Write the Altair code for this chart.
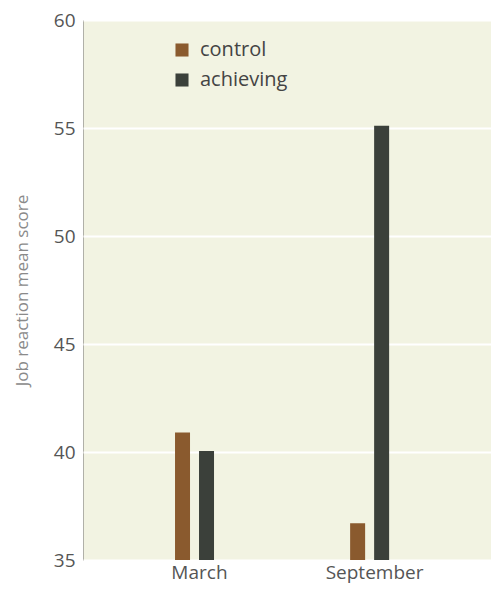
import altair as alt
import pandas as pd

months = ["March", "March", "September", "September"]
groups = ["control", "achieving", "control", "achieving"]
scores = [40.9, 40.05, 36.7, 55.1]

df = pd.DataFrame({"month": months, "group": groups, "score": scores})

chart = alt.Chart(df).mark_bar(clip=True).encode(
    x=alt.X("month:N", sort=["March", "September"],
            scale=alt.Scale(paddingInner=0.07, paddingOuter=0.2),
            axis=alt.Axis(title=None, labelAngle=0, ticks=False, domain=False,
                          labelFontSize=19, labelColor="#555555", labelFont="Open Sans",
                          labelPadding=3)),
    xOffset=alt.XOffset("group:N", sort=["control", "achieving"],
                        scale=alt.Scale(paddingInner=0.375, paddingOuter=0, range=[57, 96])),
    y=alt.Y("score:Q", scale=alt.Scale(domain=[35, 60], nice=False, zero=False),
            axis=alt.Axis(title="Job reaction mean score", values=[35, 40, 45, 50, 55, 60],
                          ticks=False, domain=False, grid=True, gridColor="#ffffff",
                          gridWidth=2, labelFontSize=19, labelColor="#555555",
                          labelFont="Open Sans", labelPadding=8,
                          titleFont="Open Sans", titleFontSize=17, titleFontWeight="normal",
                          titleColor="#8a8a8a", titlePadding=22)),
    color=alt.Color("group:N", sort=["control", "achieving"],
                    scale=alt.Scale(domain=["control", "achieving"], range=["#8a5a2e", "#3b403a"]),
                    legend=alt.Legend(title=None, orient="none", legendX=89, legendY=20,
                                      symbolType="square", symbolSize=170, symbolStrokeWidth=0,
                                      labelFontSize=20, labelFont="Open Sans", labelColor="#444444",
                                      rowPadding=10, symbolOpacity=1, labelOffset=8)),
).properties(
    width=408, height=540,
    padding={"left": 75, "top": 12, "right": 0, "bottom": 25},
    autosize=alt.AutoSizeParams(type="none"),
    background="#ffffff",
).configure_view(
    fill="#f2f3e2", stroke="#b0b0a8", strokeWidth=1
)

chart.save("out.html", embed_options={"renderer": "svg", "actions": False})
